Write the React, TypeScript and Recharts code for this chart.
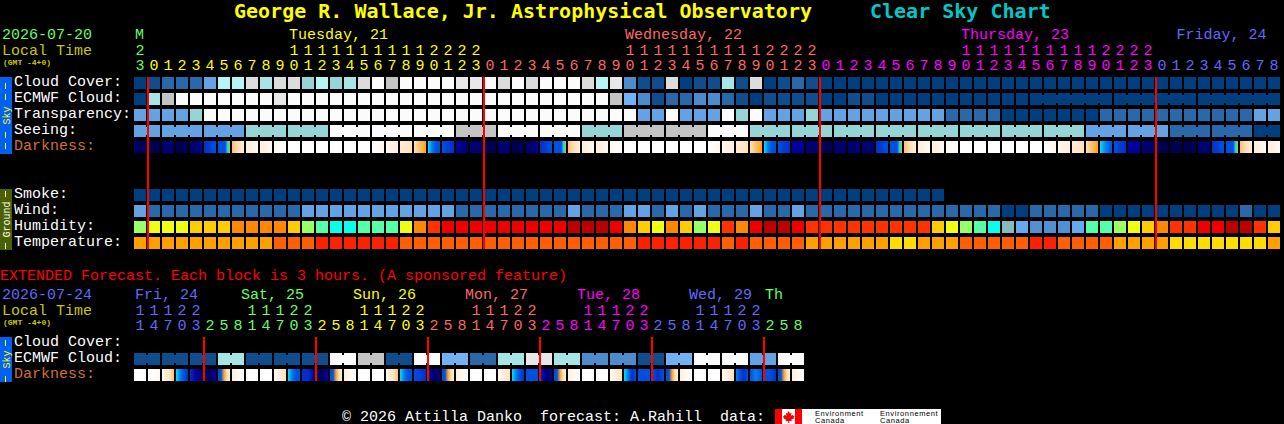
import { ScatterChart, Scatter, XAxis, YAxis, ReferenceLine } from "recharts";

const WIDTH = 1284;
const HEIGHT = 424;
const MONO = "'Liberation Mono', monospace";
const TITLE_FONT = "'DejaVu Sans Mono', monospace";

// Sky colours, clear (0) to overcast (12)
const skyColors = [
  "#003f7f", "#0f4d8d", "#2a69a9", "#4c8ccc", "#63a3e3", "#72b2f4", "#95d5d5",
  "#a5e5e5", "#b5f5f5", "#c4c4c4", "#dcdcdc", "#e8e8e8", "#fbfbfb",
];
const humidityColors = [
  "#66aaee", "#5090d0", "#88bbbb", "#0affea", "#55ffaa", "#99ff66", "#eeff11",
  "#ffcc00", "#ff8800", "#ff3300", "#ee0000", "#bb0000",
];
const temperatureColors = ["#ffdd00", "#ffa000", "#ff5f00", "#ff2000"];
const darknessColors = [
  "#ffffff", "#fff8f0", "#ffeed8", "#ffe0b8", "#ffc060", "#ffa020", "#00e0f0",
  "#0080f0", "#0050e0", "#0030c8", "#0000a0", "#000070", "#000050",
];

// 1 hour forecast, 82 columns
const mainHours = [
  23,
  0, 1, 2, 3, 4, 5, 6, 7, 8, 9, 10, 11, 12, 13, 14, 15, 16, 17, 18, 19, 20, 21, 22, 23,
  0, 1, 2, 3, 4, 5, 6, 7, 8, 9, 10, 11, 12, 13, 14, 15, 16, 17, 18, 19, 20, 21, 22, 23,
  0, 1, 2, 3, 4, 5, 6, 7, 8, 9, 10, 11, 12, 13, 14, 15, 16, 17, 18, 19, 20, 21, 22, 23,
  0, 1, 2, 3, 4, 5, 6, 7, 8,
];
const mainDayColors = ["#66ff66", "#ffff00", "#ff6666", "#ff00ff", "#6666ff"];
const mainDayLabels: [number, string][] = [
  [0, "M"], [11, "Tuesday, 21"], [35, "Wednesday, 22"], [59, "Thursday, 23"], [74.4, "Friday, 24"],
];
const mainRedLines = [0.571, 24.571, 48.571, 72.571];

const cloudCover = [
  0, 1, 2, 2, 2, 4, 8, 8, 10, 7, 10, 10, 6, 8, 6, 7, 10, 12, 9, 12, 12,
  12, 12, 11, 11, 12, 10, 12, 10, 12, 12, 12, 10, 8, 11, 3, 1, 1, 10, 0, 1, 1, 7, 1, 10, 0, 1, 2, 1, 0, 0, 0,
  0, 0, 0, 0, 0, 0, 0, 0, 0, 0, 0, 0, 0, 0, 0, 0, 0, 0, 0, 0, 0, 0, 0, 0, 0, 0, 0, 0, 0, 0,
];
const ecmwfCloud = [
  0, 7, 9, 12, 12, 12, 12, 12, 12, 12, 11, 12, 12, 12, 12, 12, 12, 12, 12, 12, 12,
  12, 12, 12, 12, 12, 12, 12, 12, 12, 12, 12, 12, 12, 9, 5, 3, 1, 2, 2, 3, 3, 2, 1, 0, 1, 1, 1, 1, 0, 0, 1,
  1, 0, 0, 0, 0, 0, 0, 0, 0, 0, 0, 0, 0, 0, 0, 0, 0, 0, 0, 0, 0, 0, 0, 0, 0, 0, 0, 0, 0, 0,
];
const transparency = [
  4, 4, 4, 4, 6, 12, 12, 12, 12, 12, 12, 12, 12, 12, 12, 12, 12, 12, 12, 12, 12,
  12, 12, 12, 12, 12, 12, 12, 12, 12, 12, 12, 12, 12, 12, 12, 4, 4, 12, 4, 4, 4, 12, 6, 12, 4, 4, 4, 6, 4, 4, 4,
  4, 4, 4, 4, 4, 4, 2, 2, 2, 2, 0, 0, 0, 0, 0, 0, 0, 2, 2, 2, 2, 2, 2, 2, 2, 2, 2, 2, 4, 4,
];
const seeing = [
  4, 4, 4, 4, 4, 4, 4, 4, 6, 6, 6, 6, 6, 6, 12, 12, 12, 12, 12, 12, 12,
  12, 12, 9, 9, 9, 12, 12, 12, 12, 12, 12, 6, 6, 6, 9, 9, 9, 9, 9, 9, 12, 12, 12, 6, 6, 6, 6, 6, 6, 6, 6,
  6, 6, 6, 6, 6, 6, 6, 6, 6, 6, 6, 6, 6, 6, 6, 6, 4, 4, 4, 4, 4, 4, 2, 2, 2, 2, 2, 2, 0, 0,
];
// Each block lists its colour levels from left to right
const darkness = [
  [11, 12], [12], [11], [12], [11, 11, 10], [9, 8], [8, 8, 8, 8, 6, 5], [4, 3, 2], [2, 1], [2, 1], [1, 0],
  [0], [0], [0], [0], [0], [0], [0, 1], [1, 2], [2, 3], [3, 4, 5], [6, 7, 8, 8], [8, 9], [10, 11], [11],
  [12], [11], [12], [11, 11, 10], [9, 8], [8, 8, 8, 8, 6, 5], [4, 3, 2], [2, 1], [2, 1], [1, 0],
  [0], [0], [0], [0], [0], [0], [0, 1], [1, 2], [2, 3], [3, 4, 5], [6, 7, 8, 8], [8, 9], [10], [11],
  [12], [11], [11], [11], [9, 8], [8, 8, 8, 8, 6, 5], [4, 3, 2], [2, 1], [2, 1], [1, 0],
  [0], [0], [0], [0], [0], [0], [0, 1], [1, 2], [2, 3], [3, 4, 5], [6, 7, 8], [8, 9], [10], [11],
  [12], [12], [12], [11], [9, 8], [8, 8, 8, 8, 6, 5], [4, 3, 2], [2, 1], [2, 1],
];
const smoke = [
  0, 0, 0, 0, 0, 0, 0, 0, 0, 0, 0, 0, 0, 0, 0, 0, 0, 0, 0, 0, 0, 0, 0, 0, 0, 0, 0, 0, 0,
  0, 0, 0, 0, 0, 0, 0, 0, 0, 0, 0, 0, 0, 0, 0, 0, 0, 0, 0, 0, 0, 0, 0, 0, 0, 0, 0, 0, 0,
];
const wind = [
  4, 2, 2, 2, 2, 2, 2, 2, 2, 2, 2, 2, 4, 4, 4, 4, 4, 4, 4, 4, 4,
  4, 4, 2, 2, 2, 2, 2, 2, 2, 2, 4, 2, 2, 2, 4, 4, 2, 4, 2, 4, 2, 2, 2, 4, 2, 2, 4, 2, 2, 2, 2,
  2, 2, 2, 2, 2, 2, 2, 2, 2, 2, 0, 0, 2, 2, 2, 2, 2, 0, 0, 0, 0, 0, 0, 0, 0, 0, 0, 2, 0, 0,
];
const humidity = [
  5, 6, 6, 6, 7, 7, 7, 8, 8, 8, 8, 7, 5, 4, 3, 3, 4, 4, 4, 6, 8,
  9, 10, 10, 10, 10, 10, 10, 10, 10, 10, 11, 11, 11, 10, 8, 7, 6, 8, 7, 5, 6, 9, 8, 10, 11, 11, 10, 9, 9, 9, 9,
  9, 9, 9, 9, 9, 7, 6, 5, 4, 3, 2, 0, 1, 1, 1, 0, 4, 4, 5, 6, 7, 8, 9, 9, 10, 10, 11, 11, 9, 7,
];
const temperature = [
  1, 1, 1, 1, 1, 1, 1, 1, 1, 1, 2, 2, 2, 3, 3, 3, 3, 3, 3, 2, 2,
  2, 2, 2, 2, 2, 2, 2, 2, 2, 2, 2, 2, 2, 2, 2, 3, 3, 3, 3, 3, 3, 2, 3, 2, 2, 2, 2, 1, 1, 1, 1,
  1, 1, 0, 0, 1, 1, 1, 2, 2, 2, 2, 2, 3, 3, 2, 2, 2, 2, 1, 1, 1, 1, 0, 0, 0, 0, 0, 0, 0, 1,
];

// Extended forecast, 48 half blocks
const extHours = [
  11, 14, 17, 20, 23,
  2, 5, 8, 11, 14, 17, 20, 23,
  2, 5, 8, 11, 14, 17, 20, 23,
  2, 5, 8, 11, 14, 17, 20, 23,
  2, 5, 8, 11, 14, 17, 20, 23,
  2, 5, 8, 11, 14, 17, 20, 23,
  2, 5, 8,
];
const extDayColors = ["#6666ff", "#66ff66", "#ffff00", "#ff6666", "#ff00ff", "#6666ff", "#66ff66"];
const extDayLabels: [number, string][] = [
  [0, "Fri, 24"], [7.57, "Sat, 25"], [15.57, "Sun, 26"], [23.57, "Mon, 27"],
  [31.57, "Tue, 28"], [39.57, "Wed, 29"], [45, "Th"],
];
const extRedLines = [4.571, 12.571, 20.571, 28.571, 36.571, 44.571];
const extEcmwf = [1, 1, 1, 7, 1, 1, 1, 12, 9, 1, 12, 5, 2, 7, 11, 7, 3, 3, 1, 5, 12, 12, 4, 12];
const extDarkness = [
  [0], [0, 1], [1, 2, 3, 4], [6, 7, 8, 9], [9, 10, 11], [11, 12, 11, 10], [8, 8, 5, 3, 2], [2, 1, 0],
  [0], [0], [1, 2, 3], [6, 7, 8, 8], [9, 9, 10], [11, 12, 11, 10], [8, 8, 5, 3, 2], [2, 1, 0],
  [0], [0], [1, 2, 3, 4], [6, 7, 8, 8], [8, 9], [10, 11, 11], [8, 8, 5, 3, 2], [2, 1, 0],
  [0], [0], [1, 2, 3], [6, 7, 8, 9], [8, 8], [9, 10, 11, 10], [8, 8, 5, 3, 2], [2, 1, 0],
  [0], [0], [1, 2, 3], [6, 7, 9, 8], [8, 8], [8, 9, 8], [8, 8, 5, 3, 2], [2, 1, 0],
  [0], [0], [1, 2, 3], [7, 8, 9, 8], [8, 7, 8], [8, 8, 9], [8, 8, 5, 3, 2], [2, 1, 0],
];

const mainRowLabels: [number, string, string][] = [
  [0, "Cloud Cover:", "#ffffff"],
  [1, "ECMWF Cloud:", "#ffffff"],
  [2, "Transparency:", "#ffffff"],
  [3, "Seeing:", "#ffffff"],
  [4, "Darkness:", "#d2702e"],
  [7, "Smoke:", "#ffffff"],
  [8, "Wind:", "#ffffff"],
  [9, "Humidity:", "#ffffff"],
  [10, "Temperature:", "#ffffff"],
];
const extRowLabels: [number, string, string][] = [
  [0, "Cloud Cover:", "#ffffff"],
  [1, "ECMWF Cloud:", "#ffffff"],
  [2, "Darkness:", "#d2702e"],
];

type Cell = { col: number; row: number; fill?: string; stops?: string[]; joined?: boolean };

function flatRow(row: number, values: number[], colors: string[], joined?: (c: number) => boolean): Cell[] {
  return values.map((v, col) => ({
    col,
    row,
    fill: colors[v],
    joined: joined ? joined(col) && values[col + 1] === v : false,
  }));
}

function darkRow(row: number, values: number[][], prefix: string): Cell[] {
  return values.map((levels, col) => ({
    col,
    row,
    stops: levels.map((l) => darknessColors[l]),
    fill: `${prefix}${col}`,
  }));
}

function Block(props: any) {
  const { cx, cy, payload } = props;
  const { stops, fill, joined } = payload as Cell;
  const x = cx - 6;
  const y = cy - 6;
  if (stops) {
    return (
      <g>
        <defs>
          <linearGradient id={fill}>
            {stops.map((c, i) => (
              <stop key={i} offset={stops.length > 1 ? i / (stops.length - 1) : 0} stopColor={c} />
            ))}
          </linearGradient>
        </defs>
        <rect x={x} y={y} width={12} height={12} fill={`url(#${fill})`} />
      </g>
    );
  }
  return (
    <g>
      <rect x={x} y={y} width={12} height={12} fill={fill} />
      {joined && <rect x={x + 12} y={y + 2} width={2} height={8} fill={fill} />}
    </g>
  );
}

// Three line column header: day name, tens digit, units digit
function headerTick(hours: number[], dayColors: string[], labels: [number, string][], ys: number[]) {
  const colorOfCol: string[] = [];
  let day = 0;
  hours.forEach((h, i) => {
    if (i > 0 && h < hours[i - 1]) day += 1;
    colorOfCol.push(dayColors[day]);
  });
  return (props: any) => {
    const { x, payload } = props;
    const col = payload.value as number;
    const hour = hours[col];
    const label = labels.find((l) => l[0] === col);
    const labelColor = label ? colorOfCol[Math.ceil(col)] : undefined;
    return (
      <g fontFamily={MONO} fontSize={15}>
        {label && (
          <text x={x - 5} y={ys[0]} fill={labelColor}>
            {label[1]}
          </text>
        )}
        {hour !== undefined && hour >= 10 && (
          <text x={x} y={ys[1]} fill={colorOfCol[col]} textAnchor="middle">
            {Math.floor(hour / 10)}
          </text>
        )}
        {hour !== undefined && (
          <text x={x} y={ys[2]} fill={colorOfCol[col]} textAnchor="middle">
            {hour % 10}
          </text>
        )}
      </g>
    );
  };
}

function rowTick(labels: [number, string, string][]) {
  return (props: any) => {
    const { y, payload } = props;
    const label = labels.find((l) => l[0] === payload.value);
    if (!label) return <g />;
    return (
      <text x={14} y={y + 3} fill={label[2]} fontFamily={MONO} fontSize={15}>
        {label[1]}
      </text>
    );
  };
}

function Strip({ top, bottom, fill, color, word, dashes }: any) {
  const mid = (top + bottom) / 2;
  return (
    <g fontFamily={MONO} fontSize={10} fill={color}>
      <rect x={0} y={top} width={12} height={bottom - top} fill={fill} stroke="none" />
      <text transform={`translate(9.5 ${mid}) rotate(-90)`} textAnchor="middle" style={{ whiteSpace: "pre" }}>
        {word}
      </text>
      {dashes.map((d: number, i: number) => (
        <rect key={i} x={5} y={d} width={1} height={6} />
      ))}
    </g>
  );
}

function Header({ date, dateColor, y }: { date: string; dateColor: string; y: number }) {
  return (
    <g fontFamily={MONO}>
      <text x={2} y={y} fontSize={15} fill={dateColor}>{date}</text>
      <text x={2} y={y + 16} fontSize={15} fill="#c8c800">Local Time</text>
      <text x={3} y={y + 26} fontSize={8} fontWeight="bold" fill="#c8c800">(GMT -4+0)</text>
    </g>
  );
}

const mainCols = mainHours.map((_, i) => i);
const mainTicks = [...mainCols, 74.4];
const extCols = extHours.map((_, i) => i);
const extTicks = [...extCols, ...extDayLabels.map((d) => d[0]).filter((c) => !Number.isInteger(c))];

const seeingJoin = (c: number) => (c + 1) % 3 !== 2;
const ecmwfJoin = (c: number) => c >= 64 && (c + 1 - 64) % 6 !== 0;

const mainSeries: Cell[][] = [
  flatRow(0, cloudCover, skyColors),
  flatRow(1, ecmwfCloud, skyColors, ecmwfJoin),
  flatRow(2, transparency, skyColors),
  flatRow(3, seeing, skyColors, seeingJoin),
  darkRow(4, darkness, "dark"),
  flatRow(7, smoke, skyColors),
  flatRow(8, wind, skyColors),
  flatRow(9, humidity, humidityColors),
  flatRow(10, temperature, temperatureColors),
];

// Extended cloud blocks span two half columns, joined in the middle
const extEcmwfCells: Cell[] = extEcmwf.flatMap((v, i) => [
  { col: i * 2, row: 1, fill: skyColors[v], joined: true },
  { col: i * 2 + 1, row: 1, fill: skyColors[v], joined: false },
]);
const extSeries: Cell[][] = [extEcmwfCells, darkRow(2, extDarkness, "extdark")];

export default function App() {
  return (
    <div style={{ position: "fixed", left: 0, top: 0, width: WIDTH, height: HEIGHT, background: "#000", overflow: "hidden" }}>
      <div style={{ position: "absolute", left: 0, top: 0 }}>
        <ScatterChart width={WIDTH} height={HEIGHT} margin={{ top: 0, right: 3, bottom: 175, left: 0 }}>
          <XAxis
            type="number"
            dataKey="col"
            orientation="top"
            height={77}
            domain={[-0.5, 81.5]}
            ticks={mainTicks}
            interval={0}
            axisLine={false}
            tickLine={false}
            allowDataOverflow
            tick={headerTick(mainHours, mainDayColors, mainDayLabels, [39, 55, 70])}
          />
          <YAxis
            type="number"
            dataKey="row"
            width={133}
            reversed
            domain={[-0.375, 10.375]}
            ticks={mainRowLabels.map((l) => l[0])}
            interval={0}
            axisLine={false}
            tickLine={false}
            allowDataOverflow
            tick={rowTick(mainRowLabels)}
          />
          {mainSeries.map((cells, i) => (
            <Scatter key={i} data={cells} shape={Block} isAnimationActive={false} />
          ))}
          {mainRedLines.map((x) => (
            <ReferenceLine key={x} x={x} stroke="#ff0000" strokeWidth={2} zIndex={2000} />
          ))}
          <text x={234} y={18} fontFamily={TITLE_FONT} fontSize={20} fontWeight="bold" fill="#ffff00">
            George R. Wallace, Jr. Astrophysical Observatory
          </text>
          <text x={870} y={18} fontFamily={TITLE_FONT} fontSize={20} fontWeight="bold" fill="#00c8c8">
            Clear Sky Chart
          </text>
          <Header date="2026-07-20" dateColor="#66ff66" y={39} />
          <Strip top={77} bottom={154} fill="#0060f0" color="#ffff00" word="Sky" dashes={[83, 94, 132, 143]} />
          <Strip top={189} bottom={250} fill="#4b6000" color="#ffffff" word="Ground" dashes={[191, 243]} />
        </ScatterChart>
      </div>
      <div style={{ position: "absolute", left: 0, top: 0 }}>
        <ScatterChart width={WIDTH} height={HEIGHT} margin={{ top: 0, right: 479, bottom: 43, left: 0 }}>
          <XAxis
            type="number"
            dataKey="col"
            orientation="top"
            height={337}
            domain={[-0.5, 47.5]}
            ticks={extTicks}
            interval={0}
            axisLine={false}
            tickLine={false}
            allowDataOverflow
            tick={headerTick(extHours, extDayColors, extDayLabels, [299, 314.5, 330])}
          />
          <YAxis
            type="number"
            dataKey="row"
            width={133}
            reversed
            domain={[-0.375, 2.375]}
            ticks={extRowLabels.map((l) => l[0])}
            interval={0}
            axisLine={false}
            tickLine={false}
            allowDataOverflow
            tick={rowTick(extRowLabels)}
          />
          {extSeries.map((cells, i) => (
            <Scatter key={i} data={cells} shape={Block} isAnimationActive={false} />
          ))}
          {extRedLines.map((x) => (
            <ReferenceLine key={x} x={x} stroke="#ff0000" strokeWidth={2} zIndex={2000} />
          ))}
          <text x={0} y={280} fontFamily={MONO} fontSize={15} fill="#ff0000">
            EXTENDED Forecast. Each block is 3 hours. (A sponsored feature)
          </text>
          <Header date="2026-07-24" dateColor="#6666ff" y={299} />
          <Strip top={337} bottom={382} fill="#0060f0" color="#ffff00" word="Sky" dashes={[340, 376]} />
          <text x={342} y={420.5} fontFamily={MONO} fontSize={15} fill="#ffffff" style={{ whiteSpace: "pre" }}>
            © 2026 Attilla Danko  forecast: A.Rahill  data:
          </text>
          <rect x={775} y={409} width={166} height={15} fill="#ffffff" />
          <rect x={775} y={409} width={7} height={15} fill="#ff0000" />
          <rect x={795} y={409} width={7} height={15} fill="#ff0000" />
          <path d="M788.5 411l1.500 2.500 1.500-.7-.5 3 2-1 .5 1.500 1-.5-1 3-2 .7.2 1.500h-2.500v2h-1v-2h-2.500l.2-1.500-2-.7-1-3 1 .5.5-1.500 2 1-.5-3 1.500.7z" fill="#ff0000" />
          <g fontFamily="'Liberation Sans', sans-serif" fontSize={7.5} fill="#000000">
            <text x={815} y={415.5} letterSpacing={0.6}>Environment</text>
            <text x={815} y={423} letterSpacing={0.6}>Canada</text>
            <text x={880} y={415.5} letterSpacing={0.6}>Environnement</text>
            <text x={880} y={423} letterSpacing={0.6}>Canada</text>
          </g>
        </ScatterChart>
      </div>
    </div>
  );
}
